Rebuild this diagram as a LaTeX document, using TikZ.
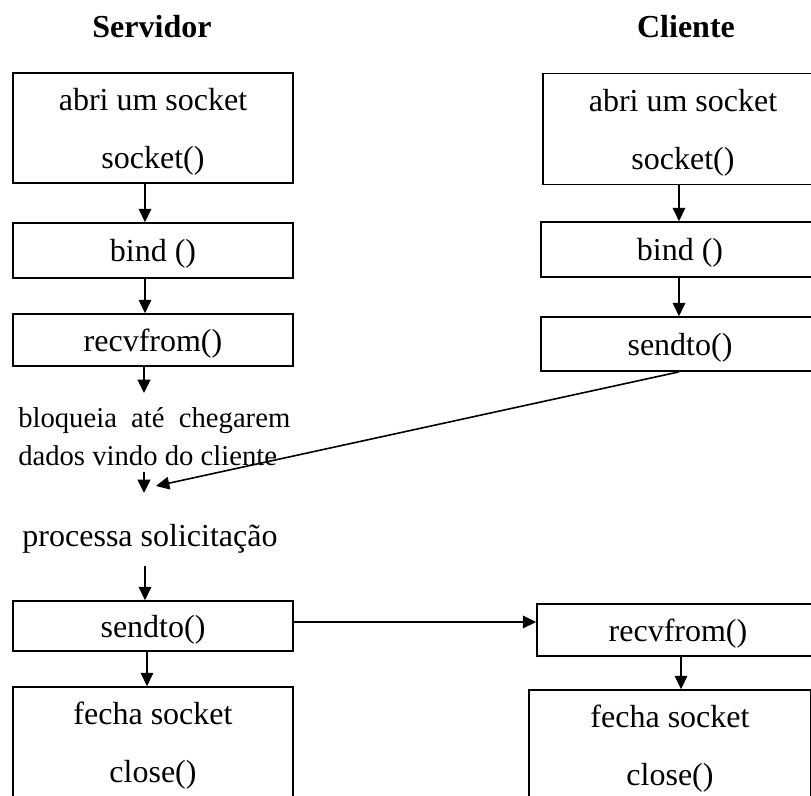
\documentclass[tikz,border=0pt]{standalone}
\usepackage{fontspec}
\setmainfont{Liberation Serif}
\usetikzlibrary{arrows.meta}
\begin{document}
\begin{tikzpicture}[x=0.75pt, y=-0.75pt,
  heading/.style={font=\fontsize{24}{28}\selectfont\bfseries, inner sep=0pt, anchor=base},
  box/.style={draw, line width=1.3pt, inner sep=0pt, align=center, text depth=0pt,
    font=\fontsize{24}{43.5}\selectfont},
  note/.style={inner sep=0pt, font=\fontsize{21.5}{25}\selectfont, anchor=base west},
  bignote/.style={inner sep=0pt, font=\fontsize{24}{28}\selectfont, anchor=base},
  flow/.style={-{Triangle[length=10pt,width=9.5pt]}, line width=1.2pt}]
\useasboundingbox (0,0) rectangle (811,796);
\clip (0,0) rectangle (811,796);

% column headings
\node[heading] (tS) at (152,37) {Servidor};
\node[heading] (tC) at (686,37) {Cliente};

% server side
\node[box, minimum width=210pt, minimum height=82.5pt] (sOpen)  at (153,128)   {abri um socket\\socket()};
\node[box, minimum width=210pt, minimum height=41.25pt] (sBind) at (153,250.5) {bind ()};
\node[box, minimum width=210pt, minimum height=39pt]   (sRecv)  at (153,340)   {recvfrom()};
\node[note] (sWaitA) at (18,427) {\makebox[204pt][s]{bloqueia até chegarem}};
\node[note] (sWaitB) at (18,465) {dados vindo do cliente};
\node[bignote] (sProc) at (150,546) {processa solicitação};
\node[box, minimum width=210pt, minimum height=37.5pt] (sSend)  at (153,626)   {sendto()};
\node[box, minimum width=210pt, minimum height=82.5pt] (sClose) at (153,742)   {fecha socket\\close()};

% client side
\node[box, minimum width=210pt, minimum height=83.25pt] (cOpen) at (683,129)   {abri um socket\\socket()};
\node[box, minimum width=208.5pt, minimum height=41.25pt] (cBind) at (680,249.5) {bind ()};
\node[box, minimum width=208.5pt, minimum height=40.5pt] (cSend) at (680,344)   {sendto()};
\node[box, minimum width=211.5pt, minimum height=39pt]   (cRecv) at (678,630)   {recvfrom()};
\node[box, minimum width=211.5pt, minimum height=82.5pt] (cClose) at (670,745)  {fecha socket\\close()};

% guide lines for the vertical arrows
\coordinate (axS) at (145,0);
\coordinate (axC) at (679,0);
\coordinate (axR) at (681,0);

% free ends around the waiting note
\coordinate (wTop) at (144,393);
\coordinate (wBot) at (144,472);
\coordinate (wHit) at (144,493);
\coordinate (pTop) at (145,566);

% server flow
\draw[flow] (sOpen.south -| axS) -- (sBind.north -| axS);
\draw[flow] (sBind.south -| axS) -- (sRecv.north -| axS);
\draw[flow] (sRecv.south -| wTop) -- (wTop);
\draw[flow] (wBot) -- (wHit);
\draw[flow] (pTop) -- (sSend.north -| pTop);
\draw[flow] ([xshift=-4.5pt]sSend.south) -- ([xshift=-4.5pt]sClose.north);

% client flow
\draw[flow] (cOpen.south -| axC) -- (cBind.north -| axC);
\draw[flow] (cBind.south -| axC) -- (cSend.north -| axC);
\draw[flow] (cRecv.south -| axR) -- (cClose.north -| axR);

% messages between the two
\coordinate (cHit) at (156,486);
\draw[flow] (cSend.south -| axC) -- (cHit);
\draw[flow] ([yshift=3pt]sSend.east) -- ([yshift=3pt]sSend.east -| cRecv.west);
\end{tikzpicture}
\end{document}
